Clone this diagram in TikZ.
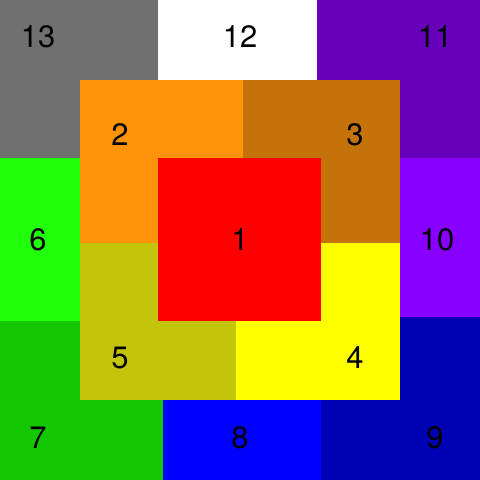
\documentclass[tikz,border=0pt]{standalone}
\usepackage{fontspec}
\setmainfont{TeX Gyre Heros}
\usetikzlibrary{positioning}

\definecolor{tileGray}{RGB}{112,112,112}
\definecolor{tilePurple}{RGB}{102,0,187}
\definecolor{tileLime}{RGB}{33,255,10}
\definecolor{tileViolet}{RGB}{136,0,255}
\definecolor{tileGreen}{RGB}{20,200,0}
\definecolor{tileBlue}{RGB}{0,0,255}
\definecolor{tileNavy}{RGB}{0,0,180}
\definecolor{tileOrange}{RGB}{255,147,10}
\definecolor{tileBrown}{RGB}{196,115,10}
\definecolor{tileOlive}{RGB}{196,196,10}
\definecolor{tileYellow}{RGB}{255,255,0}
\definecolor{tileRed}{RGB}{255,0,0}

\begin{document}
\begin{tikzpicture}[x=0.025cm, y=-0.025cm, tag/.style={inner sep=0pt, font=\fontsize{22}{26}\selectfont}]
		\useasboundingbox (0,0) rectangle (480,480);
		\fill[white] (0,0) rectangle (480,480);
		% Outer ring
		\fill[tileGray] (0,0) rectangle (158,158);
		\fill[white] (158,0) rectangle (317,80);
		\fill[tilePurple] (317,0) rectangle (480,158);
		\fill[tileLime] (0,158) rectangle (80,321);
		\fill[tileViolet] (400,158) rectangle (480,317);
		\fill[tileGreen] (0,321) rectangle (163,480);
		\fill[tileBlue] (163,400) rectangle (321,480);
		\fill[tileNavy] (321,317) rectangle (480,480);
		% Middle ring
		\fill[tileOrange] (80,80) rectangle (243,243);
		\fill[tileBrown] (243,80) rectangle (400,243);
		\fill[tileOlive] (80,243) rectangle (236,400);
		\fill[tileYellow] (236,243) rectangle (400,400);
		% Centre
		\fill[tileRed] (158,158) rectangle (321,321);
		% Labels
		\node[tag] (t1) at (240,240) {1};
		\node[tag] (t2) at (120,135) {2};
		\node[tag] (t3) at (355,135) {3};
		\node[tag] (t4) at (355,358) {4};
		\node[tag] (t5) at (120,358) {5};
		\node[tag] (t6) at (38,240) {6};
		\node[tag] (t7) at (38,438) {7};
		\node[tag] (t8) at (240,438) {8};
		\node[tag] (t9) at (435,438) {9};
		\node[tag] (t10) at (437,240) {10};
		\node[tag] (t11) at (435,37) {11};
		\node[tag] (t12) at (240,37) {12};
		\node[tag] (t13) at (38,37) {13};
\end{tikzpicture}
\end{document}
